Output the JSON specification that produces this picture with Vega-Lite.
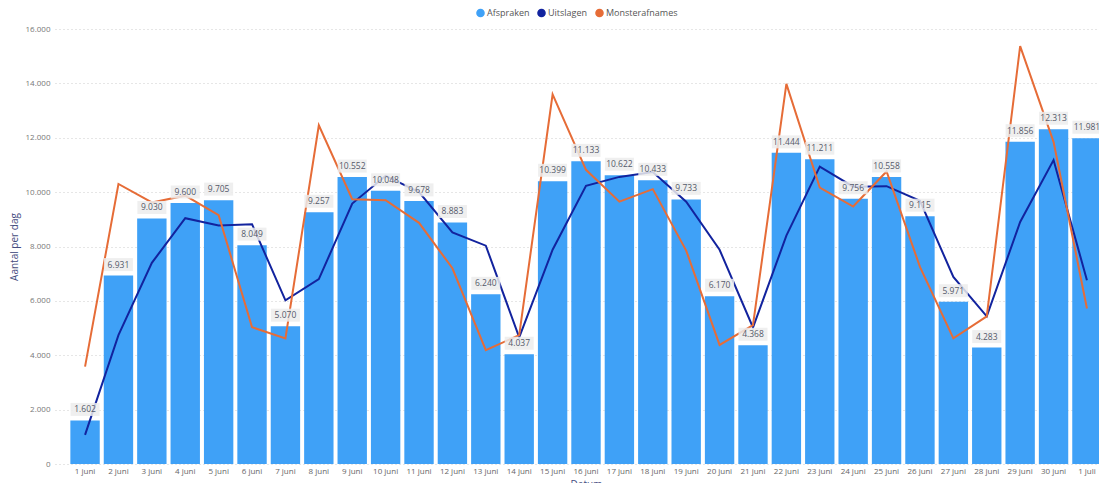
{
  "$schema": "https://vega.github.io/schema/vega-lite/v6.json",
  "width": 1062,
  "height": 435,
  "autosize": {"type": "none"},
  "padding": {"left": 55, "top": 29, "right": 0, "bottom": 30},
  "config": {
    "locale": {"number": {"decimal": ",", "thousands": ".", "grouping": [3], "currency": ["€", ""]}},
    "font": "Open Sans",
    "view": {"stroke": null}
  },
  "data": {
    "values": [
      {"Datum": "1 juni", "Afspraken": 1602, "Uitslagen": 1070, "Monsterafnames": 3580},
      {"Datum": "2 juni", "Afspraken": 6931, "Uitslagen": 4740, "Monsterafnames": 10300},
      {"Datum": "3 juni", "Afspraken": 9030, "Uitslagen": 7400, "Monsterafnames": 9620},
      {"Datum": "4 juni", "Afspraken": 9600, "Uitslagen": 9040, "Monsterafnames": 9870},
      {"Datum": "5 juni", "Afspraken": 9705, "Uitslagen": 8770, "Monsterafnames": 9150},
      {"Datum": "6 juni", "Afspraken": 8049, "Uitslagen": 8820, "Monsterafnames": 5030},
      {"Datum": "7 juni", "Afspraken": 5070, "Uitslagen": 6020, "Monsterafnames": 4620},
      {"Datum": "8 juni", "Afspraken": 9257, "Uitslagen": 6800, "Monsterafnames": 12460},
      {"Datum": "9 juni", "Afspraken": 10552, "Uitslagen": 9580, "Monsterafnames": 9740},
      {"Datum": "10 juni", "Afspraken": 10048, "Uitslagen": 10600, "Monsterafnames": 9700},
      {"Datum": "11 juni", "Afspraken": 9678, "Uitslagen": 10000, "Monsterafnames": 8870},
      {"Datum": "12 juni", "Afspraken": 8883, "Uitslagen": 8520, "Monsterafnames": 7200},
      {"Datum": "13 juni", "Afspraken": 6240, "Uitslagen": 8030, "Monsterafnames": 4190},
      {"Datum": "14 juni", "Afspraken": 4037, "Uitslagen": 4660, "Monsterafnames": 4740},
      {"Datum": "15 juni", "Afspraken": 10399, "Uitslagen": 7880, "Monsterafnames": 13600},
      {"Datum": "16 juni", "Afspraken": 11133, "Uitslagen": 10230, "Monsterafnames": 10820},
      {"Datum": "17 juni", "Afspraken": 10622, "Uitslagen": 10560, "Monsterafnames": 9650},
      {"Datum": "18 juni", "Afspraken": 10433, "Uitslagen": 10740, "Monsterafnames": 10110},
      {"Datum": "19 juni", "Afspraken": 9733, "Uitslagen": 9650, "Monsterafnames": 7850},
      {"Datum": "20 juni", "Afspraken": 6170, "Uitslagen": 7880, "Monsterafnames": 4380},
      {"Datum": "21 juni", "Afspraken": 4368, "Uitslagen": 5020, "Monsterafnames": 5110},
      {"Datum": "22 juni", "Afspraken": 11444, "Uitslagen": 8400, "Monsterafnames": 13980},
      {"Datum": "23 juni", "Afspraken": 11211, "Uitslagen": 10940, "Monsterafnames": 10170},
      {"Datum": "24 juni", "Afspraken": 9756, "Uitslagen": 10200, "Monsterafnames": 9470},
      {"Datum": "25 juni", "Afspraken": 10558, "Uitslagen": 10220, "Monsterafnames": 10760},
      {"Datum": "26 juni", "Afspraken": 9115, "Uitslagen": 9680, "Monsterafnames": 7250},
      {"Datum": "27 juni", "Afspraken": 5971, "Uitslagen": 6880, "Monsterafnames": 4620},
      {"Datum": "28 juni", "Afspraken": 4283, "Uitslagen": 5430, "Monsterafnames": 5430},
      {"Datum": "29 juni", "Afspraken": 11856, "Uitslagen": 8900, "Monsterafnames": 15370},
      {"Datum": "30 juni", "Afspraken": 12313, "Uitslagen": 11180, "Monsterafnames": 11850},
      {"Datum": "1 juli", "Afspraken": 11981, "Uitslagen": 6760, "Monsterafnames": 5720}
    ]
  },
  "encoding": {
    "x": {
      "field": "Datum", "type": "nominal", "sort": null,
      "scale": {"paddingInner": 0.12, "paddingOuter": 0.46},
      "axis": {
        "title": "Datum", "labelAngle": 0, "labelFontSize": 8, "labelColor": "#666666",
        "labelPadding": 3, "ticks": false, "domain": false, "labelOverlap": false,
        "titleFontSize": 10, "titleColor": "#444c80", "titleFontWeight": "normal", "titlePadding": 4
      }
    }
  },
  "layer": [
    {
      "mark": {"type": "bar", "color": "#3fa1f7"},
      "encoding": {
        "y": {
          "field": "Afspraken", "type": "quantitative",
          "scale": {"domain": [0, 16000], "nice": false},
          "axis": {
            "title": "Aantal per dag", "format": ",d", "values": [0, 2000, 4000, 6000, 8000, 10000, 12000, 14000, 16000],
            "labelFontSize": 8, "labelColor": "#777777", "labelPadding": 5, "labelOverlap": false,
            "ticks": false, "domain": false,
            "gridColor": "#cccccc", "gridDash": [1, 3], "gridWidth": 1,
            "titleFontSize": 10, "titleColor": "#444c80", "titleFontWeight": "normal", "titlePadding": 6
          }
        },
        "color": {
          "datum": "Afspraken",
          "scale": {"domain": ["Afspraken", "Uitslagen", "Monsterafnames"], "range": ["#3fa1f7", "#12239e", "#e66c37"]},
          "legend": {
            "title": null, "orient": "none", "legendX": 421, "legendY": -21, "direction": "horizontal",
            "symbolType": "circle", "symbolSize": 50, "labelFontSize": 9, "labelColor": "#555555",
            "columnPadding": 4, "symbolOffset": 0, "labelOffset": 2
          }
        }
      }
    },
    {
      "transform": [{"fold": ["Uitslagen", "Monsterafnames"], "as": ["reeks", "waarde"]}],
      "mark": {"type": "line", "strokeWidth": 2},
      "encoding": {
        "y": {"field": "waarde", "type": "quantitative"},
        "color": {"field": "reeks", "type": "nominal", "legend": null},
        "detail": {"field": "reeks"},
        "order": {"field": "reeks", "sort": "descending"}
      }
    },
    {
      "mark": {"type": "tick", "color": "#ececec", "opacity": 0.85, "size": 29, "thickness": 13, "yOffset": -11},
      "encoding": {
        "y": {"field": "Afspraken", "type": "quantitative"}
      }
    },
    {
      "mark": {"type": "text", "fontSize": 8.5, "color": "#555a6a", "dy": -11, "baseline": "middle"},
      "encoding": {
        "y": {"field": "Afspraken", "type": "quantitative"},
        "text": {"field": "Afspraken", "type": "quantitative", "format": ",d"}
      }
    }
  ]
}
